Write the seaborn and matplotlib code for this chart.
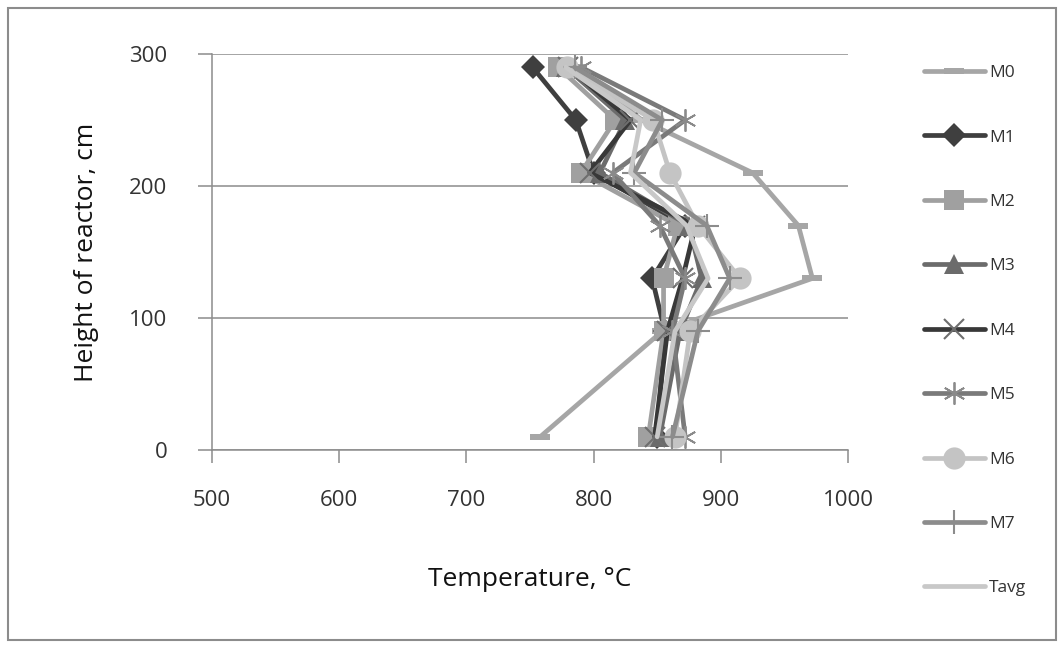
import matplotlib
matplotlib.use("Agg")
import matplotlib.pyplot as plt
import seaborn as sns
import pandas as pd
from matplotlib.lines import Line2D
from matplotlib.patches import Rectangle

# ---- data (temperature in °C at each reactor height in cm) ----
heights = [10, 90, 130, 170, 210, 250, 290]
series_names = ["M0", "M1", "M2", "M3", "M4", "M5", "M6", "M7", "Tavg"]
M0 = [758, 854, 972, 961, 925, 838, 785]
M1 = [850, 856, 846, 872, 800, 786, 752]
M2 = [843, 855, 855, 866, 790, 817, 772]
M3 = [852, 868, 885, 875, 805, 825, 778]
M4 = [848, 858, 870, 880, 797, 829, 780]
M5 = [872, 862, 872, 852, 815, 872, 790]
M6 = [864, 876, 915, 882, 860, 847, 779]
M7 = [862, 882, 907, 889, 832, 854, 785]
Tavg = [850, 864, 890, 873, 829, 837, 778]
values = [M0, M1, M2, M3, M4, M5, M6, M7, Tavg]
x_ticks = [500, 600, 700, 800, 900, 1000]
y_ticks = [0, 100, 200, 300]

dash = [(-1, -0.32), (1, -0.32), (1, 0.32), (-1, 0.32), (-1, -0.32)]
styles = {
    "M0":   dict(color="#a6a6a6", marker=dash, ms=15, mec="#a6a6a6", mfc="#a6a6a6", mew=0),
    "M1":   dict(color="#3f3f3f", marker="D", ms=12, mec="#3f3f3f", mfc="#3f3f3f", mew=0),
    "M2":   dict(color="#a0a0a0", marker="s", ms=14, mec="#a0a0a0", mfc="#a0a0a0", mew=0),
    "M3":   dict(color="#6b6b6b", marker="^", ms=14, mec="#6b6b6b", mfc="#6b6b6b", mew=0),
    "M4":   dict(color="#383838", marker="x", ms=14, mec="#6e6e6e", mfc="none", mew=1.5),
    "M5":   dict(color="#7a7a7a", marker=(6, 2, 0), ms=16, mec="#8a8a8a", mfc="none", mew=1.3),
    "M6":   dict(color="#c4c4c4", marker="o", ms=16, mec="#c4c4c4", mfc="#c4c4c4", mew=0),
    "M7":   dict(color="#8c8c8c", marker="+", ms=17, mec="#8c8c8c", mfc="none", mew=1.5),
    "Tavg": dict(color="#c8c8c8", marker=None, ms=0, mec="#c8c8c8", mfc="#c8c8c8", mew=0),
}

sns.set_theme(style="white")
plt.rcParams["font.family"] = ["Open Sans", "DejaVu Sans"]

fig = plt.figure(figsize=(10.64, 6.48), dpi=100)
ax = fig.add_axes([212 / 1064, 1 - 450 / 648, 636 / 1064, 396 / 648])

for name, vals in zip(series_names, values):
    st = styles[name]
    df = pd.DataFrame({"Temperature": vals, "Height": heights})
    sns.lineplot(data=df, x="Temperature", y="Height", sort=False, orient="y",
                 estimator=None, color=st["color"], lw=3.4, ax=ax,
                 marker=st["marker"] if st["marker"] is not None else None,
                 markersize=st["ms"], markeredgecolor=st["mec"],
                 markerfacecolor=st["mfc"], markeredgewidth=st["mew"],
                 legend=False)

ax.set_xlim(500, 1000)
ax.set_ylim(0, 300)
ax.set_xticks(x_ticks)
ax.set_yticks(y_ticks)
ax.set_xticklabels([str(v) for v in x_ticks])
ax.set_yticklabels([str(v) for v in y_ticks])
ax.yaxis.grid(True, color="#8c8c8c", lw=1.1)
ax.xaxis.grid(False)
for s in ["top", "right"]:
    ax.spines[s].set_visible(False)
for s in ["left", "bottom"]:
    ax.spines[s].set_color("#8c8c8c")
    ax.spines[s].set_linewidth(1.1)
ax.tick_params(axis="x", direction="out", length=9, width=1.1, color="#8c8c8c",
               pad=20, labelsize=16, labelcolor="#333333", bottom=True)
ax.tick_params(axis="y", direction="out", length=10, width=1.1, color="#8c8c8c",
               pad=22, labelsize=16, labelcolor="#333333", left=True)
ax.set_xlabel("Temperature, °C", fontsize=19, color="#111111", labelpad=40)
ax.set_ylabel("Height of reactor, cm", fontsize=19, color="#111111", labelpad=22)
ax.set_axisbelow(True)

# legend
handles = []
for name in series_names:
    st = styles[name]
    handles.append(Line2D([0], [0], color=st["color"], lw=3.4,
                          marker=st["marker"] if st["marker"] is not None else None,
                          markersize=st["ms"], markeredgecolor=st["mec"],
                          markerfacecolor=st["mfc"], markeredgewidth=st["mew"]))
leg = fig.legend(handles, series_names, loc="upper left",
                 bbox_to_anchor=(924 / 1064, 1 - 65 / 648), frameon=False,
                 fontsize=12.5, handlelength=3.5, handletextpad=0.25,
                 labelspacing=2.78, borderaxespad=0, borderpad=0)
for t in leg.get_texts():
    t.set_color("#333333")

# outer border
fig.patches.append(Rectangle((8 / 1064, 8 / 648), 1048 / 1064, 632 / 648,
                             transform=fig.transFigure, fill=False,
                             edgecolor="#8c8c8c", lw=1.5))

fig.savefig("out.png", dpi=100)
